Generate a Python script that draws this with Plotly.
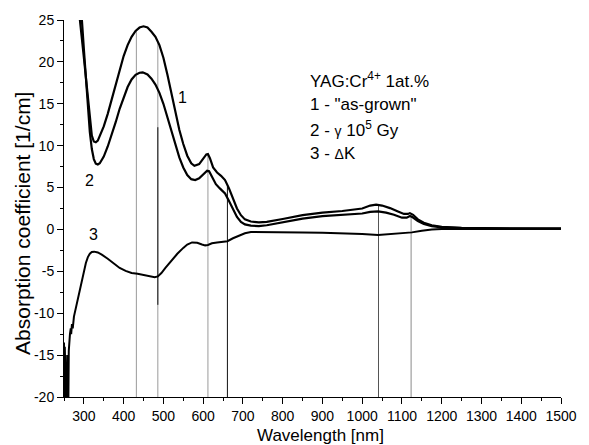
import numpy as np
import plotly.graph_objects as go

# Curve 1: "as-grown" YAG:Cr4+ absorption spectrum
wl_1 = [285, 290, 300, 310, 315, 320, 325, 330, 335, 340, 350, 360, 370, 380, 390,
        400, 410, 420, 430, 440, 450, 460, 470, 480, 490, 500, 510, 520, 530, 540,
        550, 560, 570, 578, 590, 600, 608, 612, 617, 625, 635, 645, 655, 665, 675,
        685, 695, 705, 720, 740, 760, 780, 800, 850, 900, 950, 1000, 1020, 1035,
        1050, 1070, 1090, 1105, 1115, 1120, 1128, 1140, 1155, 1175, 1200, 1250,
        1300, 1400, 1500]
k_1 = [28.0, 25.0, 20.5, 15.5, 12.8, 11.2, 10.5, 10.4, 10.6, 11.1, 12.3, 13.8, 15.5,
       17.3, 19.1, 20.7, 22.0, 23.0, 23.7, 24.1, 24.25, 24.1, 23.6, 23.0, 22.0, 20.5,
       18.5, 16.2, 13.9, 11.9, 10.2, 8.8, 7.9, 7.6, 7.8, 8.4, 8.95, 9.0, 8.5, 7.4,
       6.8, 6.4, 5.9, 4.9, 3.6, 2.5, 1.7, 1.2, 0.95, 0.85, 0.9, 1.05, 1.25, 1.7, 2.0,
       2.2, 2.5, 2.85, 2.95, 2.85, 2.55, 2.15, 1.85, 1.85, 1.95, 1.75, 1.2, 0.8, 0.5,
       0.3, 0.18, 0.15, 0.12, 0.1]

# Curve 2: after gamma irradiation, 10^5 Gy
wl_2 = [288, 295, 300, 305, 310, 315, 320, 325, 330, 335, 340, 350, 360, 370, 380,
        390, 400, 410, 420, 430, 440, 448, 460, 470, 480, 490, 500, 510, 520, 530,
        540, 550, 560, 570, 580, 590, 600, 610, 615, 622, 632, 642, 655, 665, 675,
        685, 695, 705, 720, 740, 760, 800, 850, 900, 950, 1000, 1020, 1040, 1060,
        1080, 1100, 1112, 1120, 1127, 1140, 1155, 1175, 1200, 1250, 1300, 1400, 1500]
k_2 = [28.0, 25.0, 21.5, 18.0, 14.5, 11.6, 9.6, 8.4, 7.85, 7.75, 7.9, 8.7, 9.9, 11.3,
       12.8, 14.4, 15.8, 17.0, 17.9, 18.45, 18.7, 18.75, 18.5, 18.0, 17.3, 16.3, 15.0,
       13.4, 11.7, 10.0, 8.6, 7.4, 6.5, 6.0, 5.9, 6.1, 6.6, 7.0, 6.95, 6.3, 5.4, 4.9,
       4.3, 3.4, 2.4, 1.5, 0.9, 0.6, 0.45, 0.4, 0.5, 0.85, 1.3, 1.6, 1.75, 1.9, 2.1,
       2.15, 2.0, 1.75, 1.4, 1.4, 1.6, 1.45, 1.0, 0.65, 0.4, 0.25, 0.15, 0.12, 0.1,
       0.1]

# Curve 3: induced absorption, delta K
wl_3 = [250, 251, 252, 253, 254, 255, 256, 257, 258, 259, 260, 261, 262, 263, 265,
        267, 268, 270, 272, 275, 280, 285, 290, 295, 300, 305, 310, 315, 320, 326,
        335, 345, 360, 375, 390, 405, 420, 435, 450, 465, 478, 486, 495, 505, 520,
        535, 550, 560, 572, 585, 597, 605, 612, 622, 635, 650, 661, 675, 690, 705,
        720, 750, 800, 850, 900, 950, 1000, 1040, 1060, 1090, 1110, 1125, 1150,
        1175, 1200, 1300, 1500]
k_3 = [-13.5, -20.5, -14.0, -21.0, -16.0, -21.0, -18.0, -21.0, -15.0, -21.0, -16.0,
       -20.5, -14.5, -13.5, -12.5, -11.8, -12.5, -11.3, -11.8, -10.4, -9.3, -8.2,
       -7.2, -6.2, -5.0, -4.0, -3.3, -2.9, -2.7, -2.65, -2.75, -3.0, -3.5, -4.1,
       -4.6, -4.95, -5.2, -5.3, -5.45, -5.6, -5.7, -5.6, -5.2, -4.6, -3.7, -2.9,
       -2.2, -1.8, -1.55, -1.6, -1.8, -1.9, -1.85, -1.65, -1.55, -1.45, -1.4, -1.05,
       -0.7, -0.45, -0.3, -0.3, -0.35, -0.35, -0.4, -0.45, -0.55, -0.65, -0.6,
       -0.45, -0.4, -0.35, -0.15, 0.0, 0.05, 0.08, 0.08]

# Band positions marked by vertical lines [nm] and their colours
band_wl = [432, 486, 612, 661, 1041, 1123]
band_colors = ["#9a9a9a", "#9a9a9a", "#9a9a9a", "#111111", "#555555", "#8a8a8a"]
# darker overlay on the 486 nm line: wavelength, upper and lower value
band_overlay = (486, 12.2, -9.0)

x_ticks = list(range(300, 1501, 100))
y_ticks = list(range(-20, 26, 5))
y_ticktext = [str(v) for v in y_ticks]  # plain hyphen-minus

X_MIN, X_MAX = 250, 1500
Y_MIN, Y_MAX = -20, 25

FONT = "Liberation Sans, Arial, sans-serif"

fig = go.Figure()

# vertical band lines, from curve 1 down to the bottom axis
for w, c in zip(band_wl, band_colors):
    top = float(np.interp(w, wl_1, k_1))
    fig.add_trace(go.Scatter(x=[w, w], y=[top, Y_MIN], mode="lines",
                             line=dict(color=c, width=1), hoverinfo="skip",
                             showlegend=False))
ow, otop, obot = band_overlay
fig.add_trace(go.Scatter(x=[ow, ow], y=[otop, obot], mode="lines",
                         line=dict(color="#111111", width=1), hoverinfo="skip",
                         showlegend=False))

for wl, k, lw in [(wl_1, k_1, 2.2), (wl_2, k_2, 2.2), (wl_3, k_3, 2.0)]:
    fig.add_trace(go.Scatter(x=wl, y=k, mode="lines",
                             line=dict(color="black", width=lw),
                             showlegend=False))

annotations = []
# curve numbers
for txt, x, y in [("1", 548, 15.8), ("2", 314, 5.9), ("3", 323, -0.6)]:
    annotations.append(dict(x=x, y=y, xref="x", yref="y", text=txt, showarrow=False,
                            font=dict(size=16, color="black", family=FONT),
                            xanchor="center", yanchor="middle"))

# sample description
legend_lines = [
    "YAG:Cr<sup>4+</sup> 1at.%",
    "1 - \"as-grown\"",
    "2 - <span style='font-size:14px'>γ</span> 10<sup>5</sup> Gy",
    "3 - <span style='font-size:14px'>Δ</span>K",
]
for i, txt in enumerate(legend_lines):
    annotations.append(dict(x=863, y=17.8 - 2.9 * i, xref="x", yref="y", text=txt,
                            showarrow=False, xanchor="left", yanchor="middle",
                            font=dict(size=17, color="black", family=FONT)))

# axis titles
annotations.append(dict(x=0.5155, y=-0.101, xref="paper", yref="paper",
                        text="Wavelength [nm]", showarrow=False,
                        xanchor="center", yanchor="middle",
                        font=dict(size=17, color="black", family=FONT)))
annotations.append(dict(x=-0.085, y=0.461, xref="paper", yref="paper",
                        text="Absorption coefficient [1/cm]", showarrow=False,
                        textangle=-90, xanchor="center", yanchor="middle",
                        font=dict(size=21, color="black", family=FONT)))

fig.update_layout(
    width=589, height=445,
    margin=dict(l=64, r=18, t=19, b=48),
    paper_bgcolor="white", plot_bgcolor="white",
    font=dict(family=FONT, size=14, color="black"),
    annotations=annotations,
    xaxis=dict(range=[X_MIN, X_MAX], tickmode="array", tickvals=x_ticks,
               showline=True, linecolor="black", linewidth=1,
               ticks="outside", ticklen=6, tickcolor="black", tickwidth=1,
               showgrid=False, zeroline=False, mirror=False,
               tickfont=dict(size=14, family=FONT, color="black"),
               minor=dict(tickmode="linear", tick0=250, dtick=50, ticks="outside",
                          ticklen=3, tickcolor="black", showgrid=False)),
    yaxis=dict(range=[Y_MIN, Y_MAX], tickmode="array", tickvals=y_ticks,
               ticktext=y_ticktext,
               showline=True, linecolor="black", linewidth=1,
               ticks="outside", ticklen=6, tickcolor="black", tickwidth=1,
               showgrid=False, zeroline=False, mirror=False,
               tickfont=dict(size=14, family=FONT, color="black"),
               minor=dict(tickmode="linear", tick0=-20, dtick=2.5, ticks="outside",
                          ticklen=3, tickcolor="black", showgrid=False)),
)

fig.write_html("out.html")
